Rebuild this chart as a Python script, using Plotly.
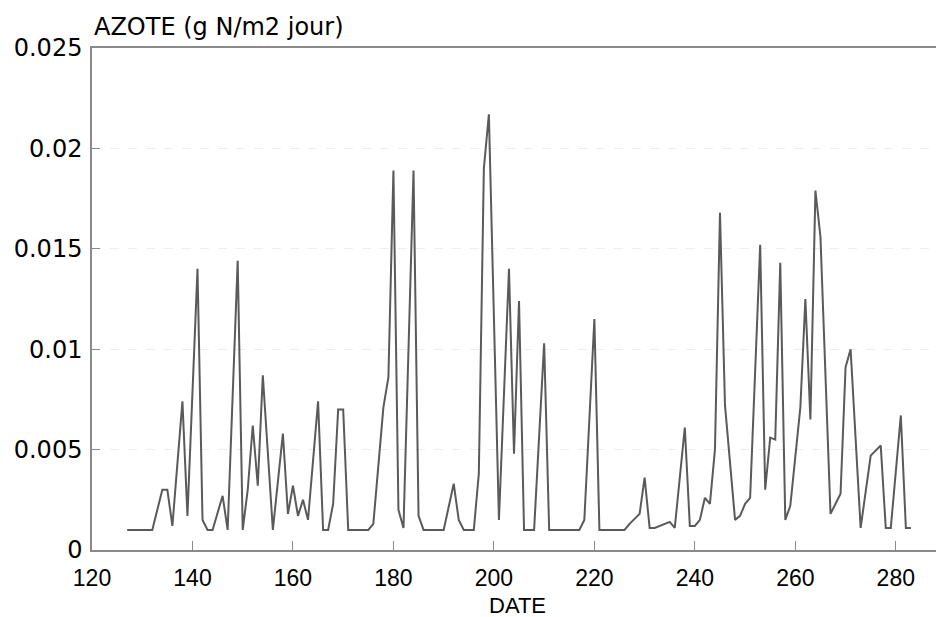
import plotly.graph_objects as go

days = [127, 132, 134, 135, 136, 138, 139, 141, 142, 143, 144, 146, 147, 149, 150, 151, 152, 153, 154,
        156, 158, 159, 160, 161, 162, 163, 165, 166, 167, 168, 169, 170, 171, 175, 176, 178, 179, 180,
        181, 182, 184, 185, 186, 190, 192, 193, 194, 196, 197, 198, 199, 201, 203, 204, 205, 206, 208,
        210, 211, 217, 218, 220, 221, 226, 227, 229, 230, 231, 232, 235, 236, 238, 239, 240, 241, 242,
        243, 244, 245, 246, 248, 249, 250, 251, 253, 254, 255, 256, 257, 258, 259, 261, 262, 263, 264,
        265, 267, 269, 270, 271, 273, 275, 277, 278, 279, 281, 282, 283]
azote = [0.001, 0.001, 0.003, 0.003, 0.0012, 0.0074, 0.0017, 0.0140, 0.0015, 0.001, 0.001, 0.0027, 0.001,
         0.0144, 0.001, 0.0030, 0.0062, 0.0032, 0.0087,
         0.001, 0.0058, 0.0018, 0.0032, 0.0017, 0.0025, 0.0015, 0.0074, 0.001, 0.001, 0.0023, 0.0070, 0.0070,
         0.001, 0.001, 0.0013, 0.0071, 0.0086, 0.0189,
         0.0020, 0.0011, 0.0189, 0.0017, 0.001, 0.001, 0.0033, 0.0015, 0.001, 0.001, 0.0038, 0.0190, 0.0217,
         0.0015, 0.0140, 0.0048, 0.0124, 0.001, 0.001,
         0.0103, 0.001, 0.001, 0.0015, 0.0115, 0.001, 0.001, 0.0013, 0.0018, 0.0036, 0.0011, 0.0011, 0.0014,
         0.0011, 0.0061, 0.0012, 0.0012, 0.0015, 0.0026,
         0.0023, 0.0050, 0.0168, 0.0072, 0.0015, 0.0017, 0.0023, 0.0026, 0.0152, 0.0030, 0.0056, 0.0055,
         0.0143, 0.0015, 0.0022, 0.0071, 0.0125, 0.0065, 0.0179,
         0.0156, 0.0018, 0.0028, 0.0091, 0.0100, 0.0011, 0.0047, 0.0052, 0.0011, 0.0011, 0.0067, 0.0011, 0.0011]

x_ticks = [120, 140, 160, 180, 200, 220, 240, 260, 280]
y_ticks = [0, 0.005, 0.01, 0.015, 0.02, 0.025]
y_tick_text = ["0", "0.005", "0.01", "0.015", "0.02", "0.025"]

FONT = "Liberation Sans"
WIDE = "DejaVu Sans"

fig = go.Figure()
fig.add_trace(go.Scatter(x=days, y=azote, mode="lines",
                         line=dict(color="#5a5a5a", width=2), showlegend=False))

fig.update_layout(
    width=936, height=617,
    margin=dict(l=92, r=0, t=48, b=67),
    paper_bgcolor="white", plot_bgcolor="white",
    font=dict(family=FONT, color="black"),
    xaxis=dict(range=[120, 288], tickvals=x_ticks, ticktext=[str(v) for v in x_ticks],
               showgrid=False, zeroline=False, showline=True, linecolor="#8a8a8a", linewidth=1.5,
               mirror=True, ticks="inside", ticklen=9, tickcolor="#8a8a8a", tickwidth=1,
               tickfont=dict(size=23, family=FONT, color="black"), ticklabelstandoff=7),
    yaxis=dict(range=[0, 0.025], tickvals=y_ticks, ticktext=y_tick_text,
               showgrid=True, gridcolor="#eeeeee", gridwidth=1, griddash="dash",
               zeroline=False, showline=True, linecolor="#8a8a8a", linewidth=1.5,
               ticks="inside", ticklen=8, tickcolor="#8a8a8a", tickwidth=1,
               tickfont=dict(size=24, family=WIDE, color="black"), ticklabelstandoff=3),
    annotations=[
        dict(text="AZOTE (g N/m2 jour)", xref="paper", yref="paper", x=0.0, y=1 + (48 - 27) / 502,
             xanchor="left", yanchor="middle", showarrow=False,
             font=dict(size=24, family=WIDE, color="black")),
        dict(text="DATE", xref="paper", yref="paper", x=(517.5 - 92) / 844, y=-(605 - 550) / 502,
             xanchor="center", yanchor="middle", showarrow=False,
             font=dict(size=22, family=FONT, color="black")),
    ],
)

fig.write_html("out.html")
